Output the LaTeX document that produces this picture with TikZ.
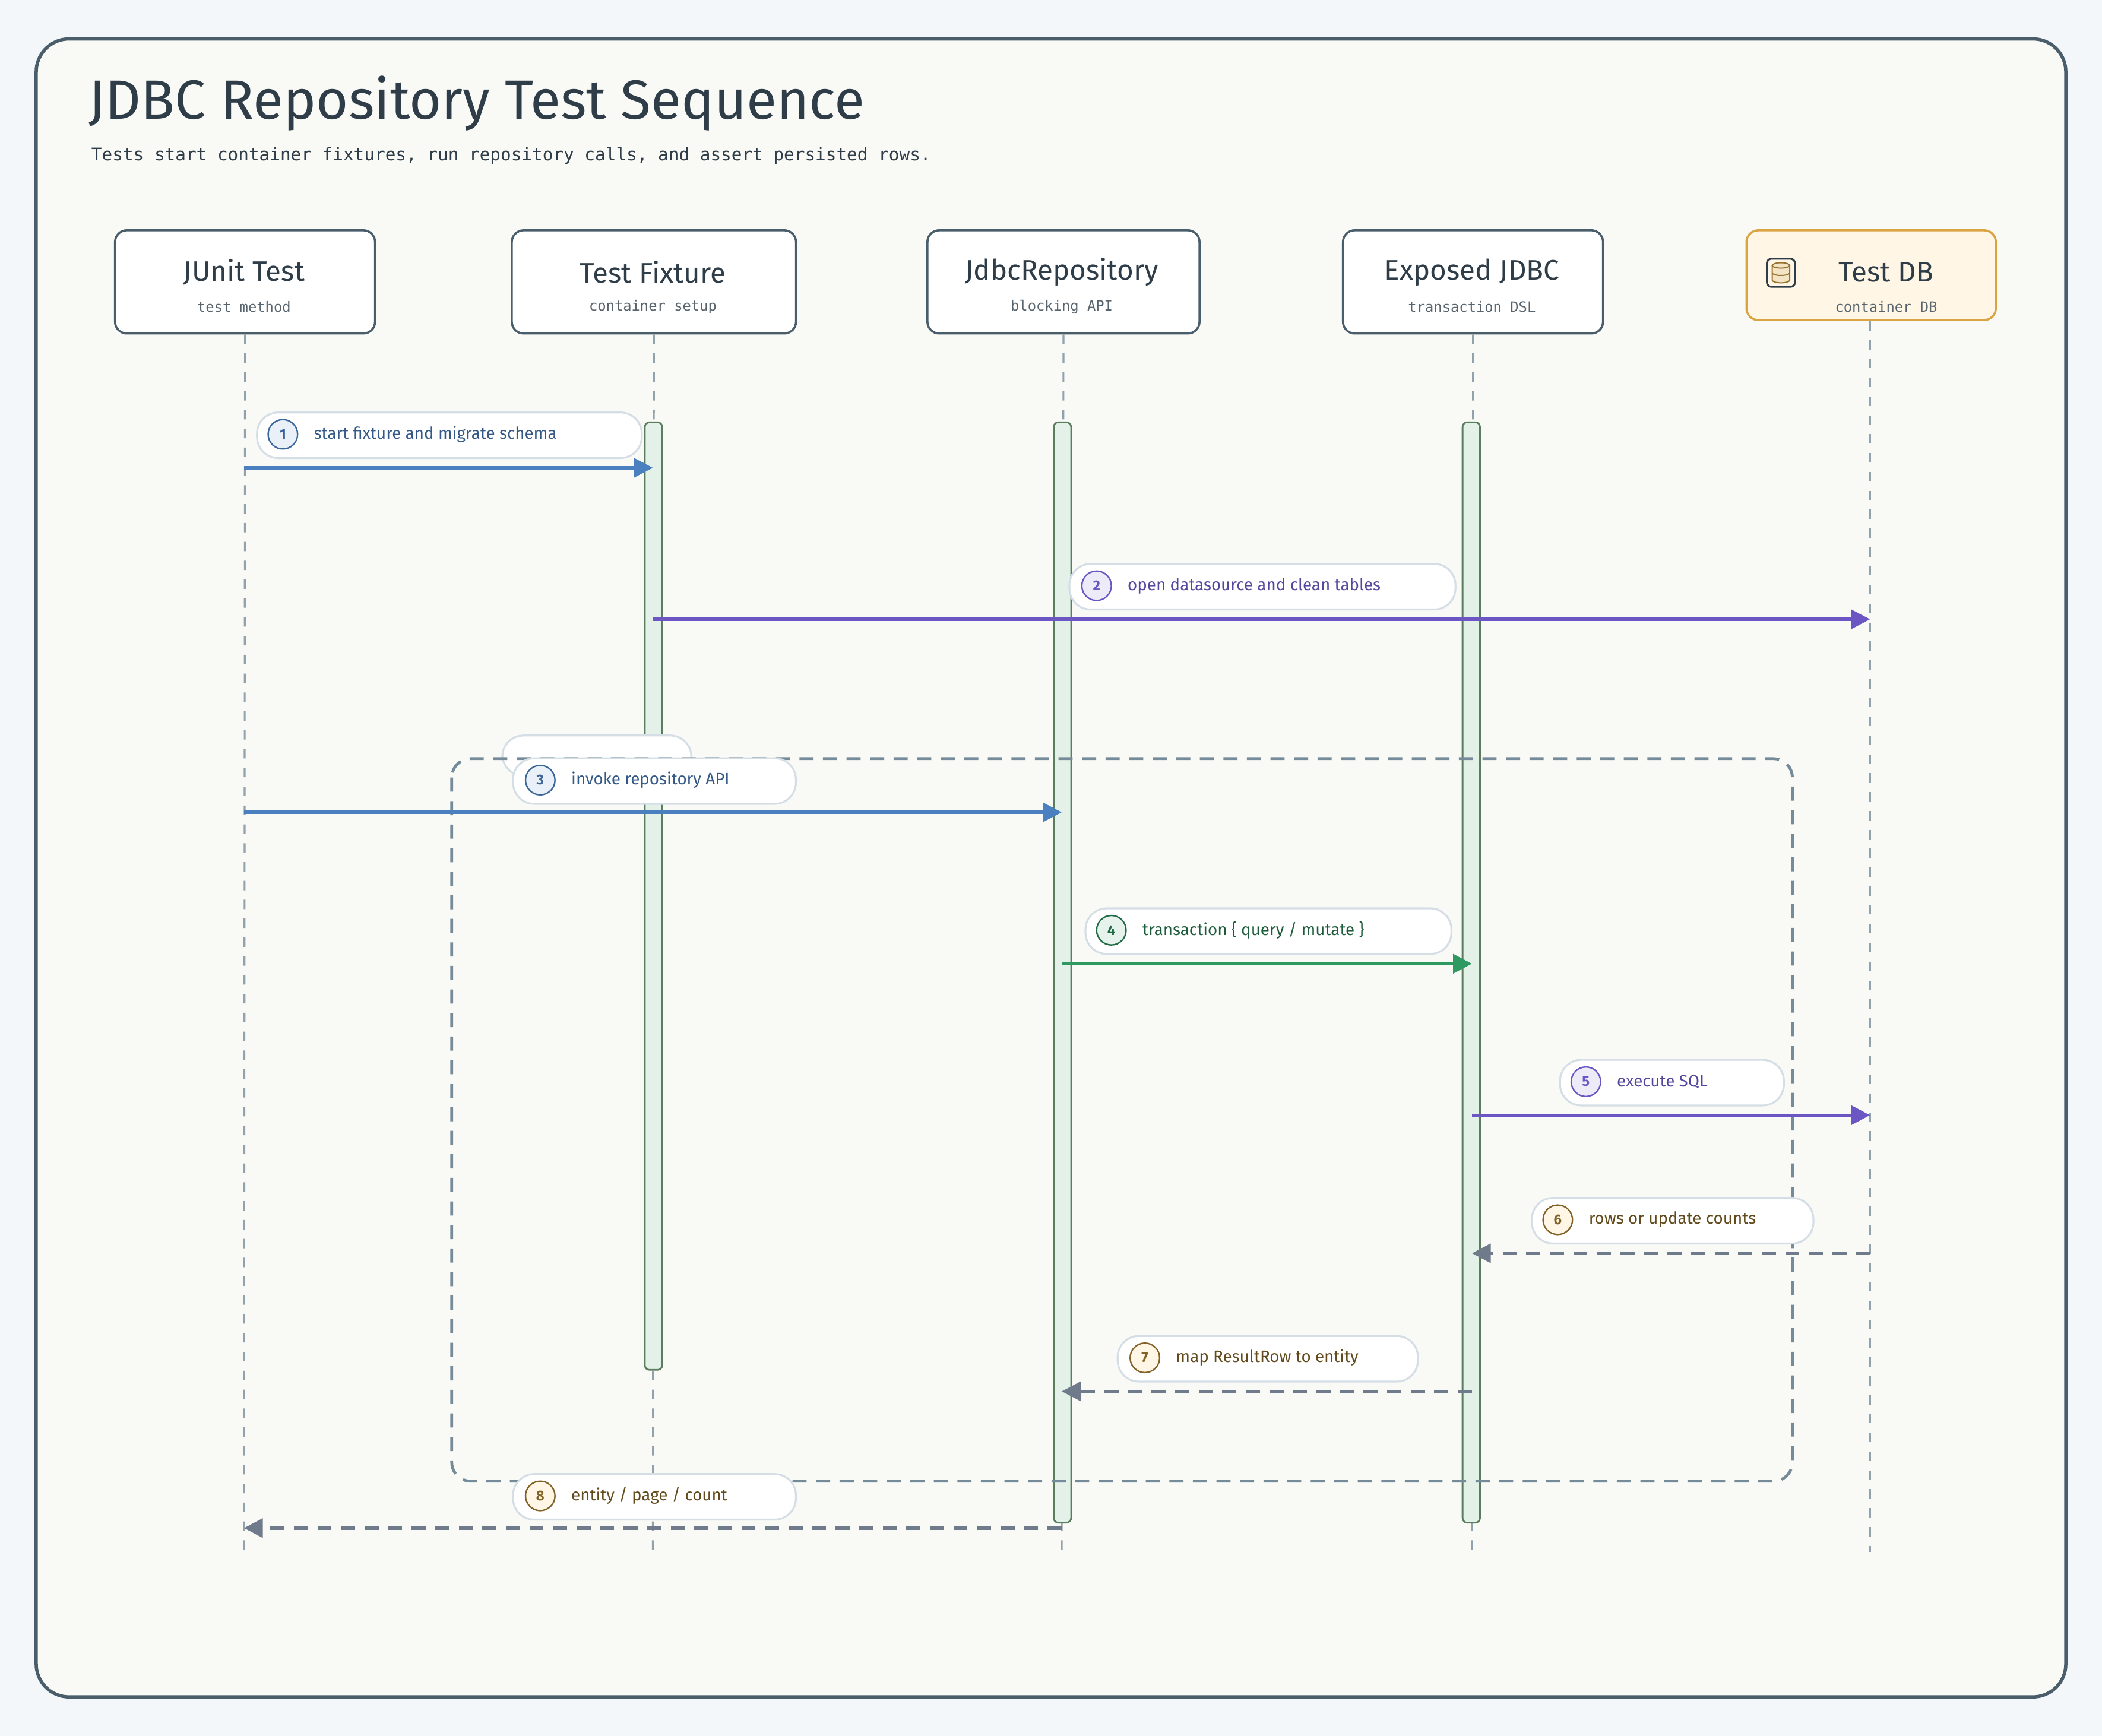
\documentclass[tikz,border=0pt]{standalone}
\usepackage{fontspec}
\setmainfont{Fira Sans}
\setmonofont{DejaVu Sans Mono}
\usetikzlibrary{arrows.meta, positioning, calc}
\definecolor{seq_ink}{HTML}{2E3D48}
\definecolor{seq_edge}{HTML}{4A5D6B}
\definecolor{seq_bg}{HTML}{F4F7F9}
\definecolor{seq_paper}{HTML}{F9FAF6}
\definecolor{seq_grey}{HTML}{768B99}
\definecolor{seq_blue}{HTML}{4A7FC0}
\definecolor{seq_purple}{HTML}{6B56C4}
\definecolor{seq_green}{HTML}{2E9A62}
\definecolor{seq_ret}{HTML}{6F7A8A}
\definecolor{seq_act}{HTML}{E3F1E8}
\definecolor{seq_actline}{HTML}{5A7D5E}
\definecolor{seq_gold}{HTML}{D9A441}
\definecolor{seq_cream}{HTML}{FFF6E6}
\definecolor{seq_pill}{HTML}{D5DEE5}
\begin{document}
\begin{tikzpicture}[x=0.02cm, y=-0.02cm,
      part/.style={draw=seq_edge, line width=0.9pt, rounded corners=5pt, fill=white,
                   minimum width=194*0.02cm, minimum height=77*0.02cm, anchor=north west},
      ptitle/.style={font=\fontsize{12}{14}\selectfont, text=seq_ink},
      psub/.style={font=\ttfamily\fontsize{6}{7}\selectfont, text=seq_ink!80},
      life/.style={draw=seq_grey!80, line width=0.8pt, dash pattern=on 4pt off 4pt},
      act/.style={draw=seq_actline, fill=seq_act, line width=0.7pt, rounded corners=2pt},
      msg/.style={line width=1.4pt, -{Triangle[length=8pt,width=8pt]}},
      ret/.style={msg, seq_ret, dash pattern=on 6pt off 4pt},
      pill/.style={draw=seq_pill, fill=white, line width=0.8pt, rounded corners=9pt,
                   minimum height=34*0.02cm, anchor=north west},
      num/.style={circle, draw=#1, line width=0.6pt, minimum size=22*0.02cm, inner sep=0pt,
                  font=\fontsize{6}{7}\selectfont\bfseries, text=#1},
      mtxt/.style={font=\fontsize{7}{8}\selectfont, anchor=west}]
  % canvas
  \fill[seq_bg] (0,0) rectangle (1568,1295);
  \draw[seq_edge, line width=1.4pt, fill=seq_paper, rounded corners=14pt] (27,29) rectangle (1541,1266);
  \node[anchor=west, font=\fontsize{23.5}{28}\selectfont, text=seq_ink] (title) at (60,77)
    {JDBC Repository Test Sequence};
  \node[anchor=west, font=\ttfamily\fontsize{7.4}{9}\selectfont, text=seq_ink] (subtitle) at (62,116)
    {Tests start container fixtures, run repository calls, and assert persisted rows.};

  % participants
  \node[part] (junit) at (85,171) {};
  \node[part, minimum width=212*0.02cm] (fixture) at (381,171) {};
  \node[part, minimum width=203*0.02cm] (repo) at (691,171) {};
  \node[part] (exposed) at (1001,171) {};
  \node[part, draw=seq_gold, fill=seq_cream, minimum width=186*0.02cm, minimum height=67*0.02cm] (db) at (1302,171) {};
  \node[ptitle] at (182,203) {JUnit Test};
  \node[psub]   at (182,229) {test method};
  \node[ptitle] at (487,203) {Test Fixture};
  \node[psub]   at (487,229) {container setup};
  \node[ptitle] at (792,203) {JdbcRepository};
  \node[psub]   at (792,229) {blocking API};
  \node[ptitle] at (1098,203) {Exposed JDBC};
  \node[psub]   at (1098,229) {transaction DSL};
  \node[ptitle] at (1407,203) {Test DB};
  \node[psub]   at (1407,229) {container DB};
  % db icon
  \draw[seq_ink, line width=0.8pt, fill=seq_cream, rounded corners=2pt] (1318,193) rectangle (1339,214);
  \draw[seq_gold!70!black, fill=seq_gold!30, line width=0.5pt]
    (1322,198) -- (1322,209) arc[start angle=180, end angle=360, x radius=6.5, y radius=-2]
    -- (1335,198);
  \draw[seq_gold!70!black, fill=seq_gold!30, line width=0.5pt] (1328.5,198) ellipse[x radius=6.5, y radius=2];
  \draw[seq_gold!70!black, line width=0.5pt] (1322,203.5) arc[start angle=180, end angle=360, x radius=6.5, y radius=-2];

  % lifelines
  \coordinate (junit-end)   at (182,1158);
  \coordinate (fixture-end) at (487,1158);
  \coordinate (repo-end)    at (792,1158);
  \coordinate (exposed-end) at (1098,1158);
  \coordinate (db-end)      at (1395,1158);
  \draw[life] (junit.south)   -- (junit-end);
  \draw[life] (fixture.south) -- (fixture-end);
  \draw[life] (repo.south)    -- (repo-end);
  \draw[life] (exposed.south) -- (exposed-end);
  \draw[life] (db.south -| db-end) -- (db-end);

  % activations
  \draw[act] (481,315) rectangle (494,1022);
  \draw[act] (786,315) rectangle (799,1136);
  \draw[act] (1091,315) rectangle (1104,1136);

  % loop frame
  \node[pill, minimum width=141*0.02cm, minimum height=30*0.02cm] (looplbl) at (374,548) {};
  \draw[seq_grey, line width=1.2pt, dash pattern=on 6pt off 4pt, rounded corners=8pt]
    (337,566) rectangle (1337,1105);

  % message points
  \coordinate (m1a) at (182,349);  \coordinate (m1b) at (487,349);
  \coordinate (m2a) at (487,462);  \coordinate (m2b) at (1395,462);
  \coordinate (m3a) at (182,606);  \coordinate (m3b) at (792,606);
  \coordinate (m4a) at (792,719);  \coordinate (m4b) at (1098,719);
  \coordinate (m5a) at (1098,832); \coordinate (m5b) at (1395,832);
  \coordinate (m6a) at (1395,935); \coordinate (m6b) at (1098,935);
  \coordinate (m7a) at (1098,1038); \coordinate (m7b) at (792,1038);
  \coordinate (m8a) at (792,1140); \coordinate (m8b) at (182,1140);
  \draw[msg, seq_blue]   (m1a) -- (m1b);
  \draw[msg, seq_purple] (m2a) -- (m2b);
  \draw[msg, seq_blue]   (m3a) -- (m3b);
  \draw[msg, seq_green]  (m4a) -- (m4b);
  \draw[msg, seq_purple] (m5a) -- (m5b);
  \draw[ret] (m6a) -- (m6b);
  \draw[ret] (m7a) -- (m7b);
  \draw[ret] (m8a) -- (m8b);

  % message labels
  \node[pill, minimum width=287*0.02cm] (p1) at (191,307) {};
  \node[num={seq_blue!80!black}, fill=seq_blue!12] (n1) at (211,324) {1};
  \node[mtxt, text=seq_blue!70!black] at (228,324) {start fixture and migrate schema};
  \node[pill, minimum width=288*0.02cm] (p2) at (797,420) {};
  \node[num={seq_purple}, fill=seq_purple!12] (n2) at (818,437) {2};
  \node[mtxt, text=seq_purple!80!black] at (835,437) {open datasource and clean tables};
  \node[pill, minimum width=211*0.02cm] (p3) at (382,565) {};
  \node[num={seq_blue!80!black}, fill=seq_blue!12] (n3) at (403,582) {3};
  \node[mtxt, text=seq_blue!70!black] at (420,582) {invoke repository API};
  \node[pill, minimum width=273*0.02cm] (p4) at (809,677) {};
  \node[num={seq_green!70!black}, fill=seq_green!12] (n4) at (829,694) {4};
  \node[mtxt, text=seq_green!60!black] at (846,694) {transaction \{ query / mutate \}};
  \node[pill, minimum width=167*0.02cm] (p5) at (1163,790) {};
  \node[num={seq_purple}, fill=seq_purple!12] (n5) at (1183,807) {5};
  \node[mtxt, text=seq_purple!80!black] at (1200,807) {execute SQL};
  \node[pill, minimum width=210*0.02cm] (p6) at (1142,893) {};
  \node[num={seq_gold!60!black}, fill=seq_cream] (n6) at (1162,910) {6};
  \node[mtxt, text=seq_gold!45!black] at (1179,910) {rows or update counts};
  \node[pill, minimum width=224*0.02cm] (p7) at (833,996) {};
  \node[num={seq_gold!60!black}, fill=seq_cream] (n7) at (854,1013) {7};
  \node[mtxt, text=seq_gold!45!black] at (871,1013) {map ResultRow to entity};
  \node[pill, minimum width=211*0.02cm] (p8) at (382,1099) {};
  \node[num={seq_gold!60!black}, fill=seq_cream] (n8) at (403,1116) {8};
  \node[mtxt, text=seq_gold!45!black] at (420,1116) {entity / page / count};
\end{tikzpicture}
\end{document}
